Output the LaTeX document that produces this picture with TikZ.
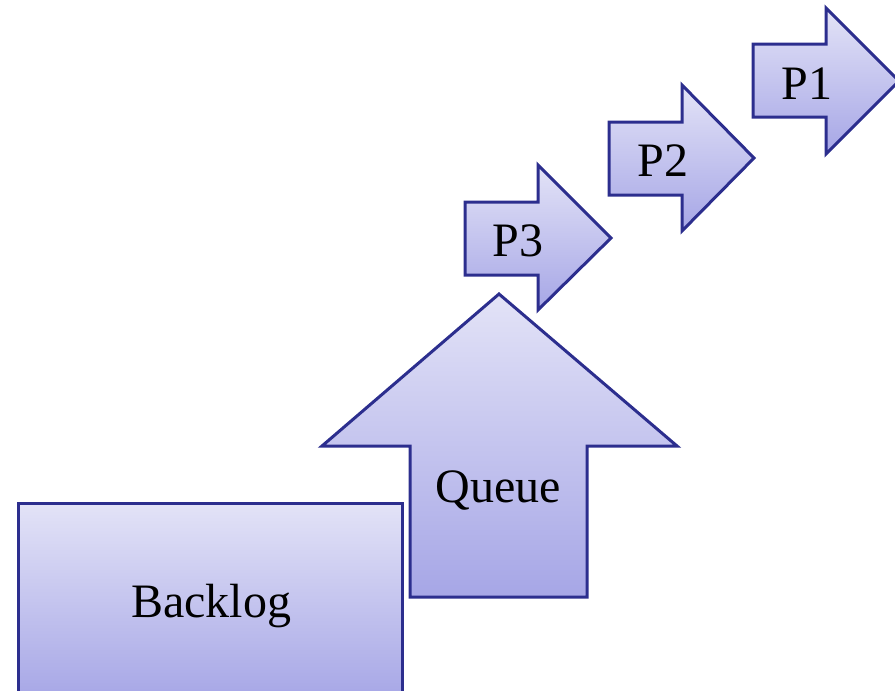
\documentclass[tikz,border=0pt]{standalone}
\usepackage{fontspec}
\setmainfont{Liberation Serif}
\definecolor{edgeblue}{RGB}{44,46,142}
\definecolor{filltop}{RGB}{227,227,247}
\definecolor{fillbot}{RGB}{166,166,230}
\begin{document}
\begin{tikzpicture}[x=1pt,y=-1pt,
  block/.style={draw=edgeblue, line width=3pt, line join=miter,
                top color=filltop, bottom color=fillbot},
  caption/.style={font=\fontsize{48}{56}\selectfont, text=black,
                  inner sep=0pt, anchor=base}]
  \useasboundingbox (0,0) rectangle (895,691);

  % backlog block (runs off the bottom edge)
  \path[block] (18,503) rectangle (402,700);
  \node[caption] (backlog) at (211,617) {Backlog};

  % queue: upward arrow
  \path[block] (410,597) -- (410,446) -- (322,446) -- (499,294)
               -- (677,446) -- (587,446) -- (587,597) -- cycle;
  \node[caption] (queue) at (498,502) {Queue};

  % P3, P2, P1: right-pointing arrows climbing to the right
  \path[block] (465,202) -- (538,202) -- (538,165) -- (611,238)
               -- (538,310) -- (538,275) -- (465,275) -- cycle;
  \node[caption] (pthree) at (518,256) {P3};

  \path[block] (609,122) -- (682,122) -- (682,85) -- (754,158)
               -- (682,231) -- (682,195) -- (609,195) -- cycle;
  \node[caption] (ptwo) at (663,176) {P2};

  \path[block] (753,44) -- (826,44) -- (826,8) -- (899,81)
               -- (826,154) -- (826,117) -- (753,117) -- cycle;
  \node[caption] (pone) at (807,99) {P1};
\end{tikzpicture}
\end{document}
